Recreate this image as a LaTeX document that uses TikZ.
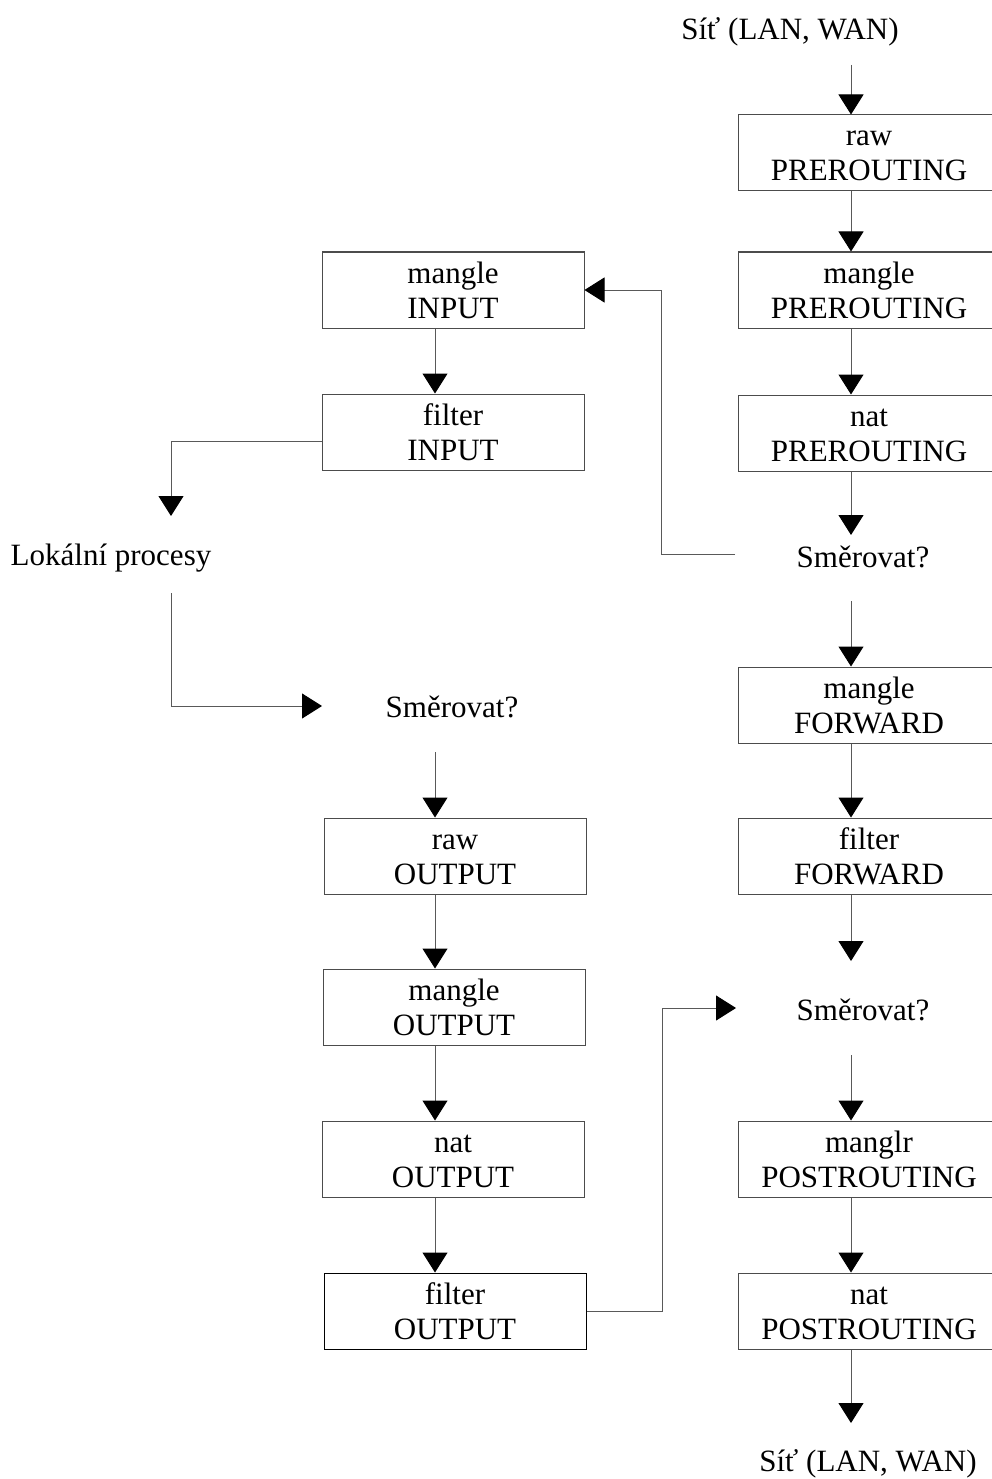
\documentclass[tikz,border=0pt]{standalone}
\usepackage{fontspec}
\setmainfont{Liberation Serif}
\usetikzlibrary{arrows.meta}
\begin{document}
\begin{tikzpicture}[x=1pt,y=-1pt,
  txt/.style={font=\fontsize{31}{35}\selectfont, inner sep=0pt, anchor=base},
  boxR/.style={draw=black!70, line width=1pt, minimum width=262pt, minimum height=76pt,
     inner sep=0pt, align=center, text height=60pt, text depth=4pt,
     font=\fontsize{31}{35}\selectfont},
  arr/.style={draw=black!65, line width=1pt, -{Triangle[width=25pt,length=20pt,color=black]}}
]
\useasboundingbox (0,0) rectangle (991,1479);
\fill[white] (0,0) rectangle (991,1479);

% column coordinates
\coordinate (colR) at (851,0);
\coordinate (colL) at (435,0);

% right column
\node[txt] (net1) at (790,40) {Síť (LAN, WAN)};
\node[boxR] (rawpre) at (869,153) {raw\\PREROUTING};
\node[boxR] (manpre) at (869,290) {mangle\\PREROUTING};
\node[boxR] (natpre) at (869,433) {nat\\PREROUTING};
\node[txt] (smer1) at (863,567) {Směrovat?};
\node[boxR] (manfwd) at (869,705) {mangle\\FORWARD};
\node[boxR] (filfwd) at (869,856) {filter\\FORWARD};
\node[txt] (smer2) at (863,1020) {Směrovat?};
\node[boxR] (manpost) at (869,1159) {manglr\\POSTROUTING};
\node[boxR] (natpost) at (869,1311) {nat\\POSTROUTING};
\node[txt] (net2) at (868,1471) {Síť (LAN, WAN)};

% left column
\node[boxR] (maninp) at (453,290) {mangle\\INPUT};
\node[boxR] (filinp) at (453,432) {filter\\INPUT};
\node[txt] (lok) at (111,565) {Lokální procesy};
\node[txt] (smer3) at (452,717) {Směrovat?};
\node[boxR] (rawout) at (455,856) {raw\\OUTPUT};
\node[boxR] (manout) at (454,1007) {mangle\\OUTPUT};
\node[boxR] (natout) at (453,1159) {nat\\OUTPUT};
\node[boxR, draw=black] (filout) at (455,1311) {filter\\OUTPUT};

% free ends
\coordinate (n1out) at (851,65);
\coordinate (s1in) at (851,535);
\coordinate (s1out) at (851,601);
\coordinate (s1left) at (735,554);
\coordinate (s2in) at (851,961);
\coordinate (s2out) at (851,1055);
\coordinate (s2left) at (736,1008);
\coordinate (n2in) at (851,1423);
\coordinate (lokin) at (171,516);
\coordinate (lokout) at (171,593);
\coordinate (s3in) at (322,706);
\coordinate (s3out) at (435,752);
\coordinate (b5) at (661,0);
\coordinate (b19) at (662,0);

% right connectors
\draw[arr] (n1out) -- (colR |- rawpre.north);
\draw[arr] (colR |- rawpre.south) -- (colR |- manpre.north);
\draw[arr] (colR |- manpre.south) -- (colR |- natpre.north);
\draw[arr] (colR |- natpre.south) -- (s1in);
\draw[arr] (s1out) -- (colR |- manfwd.north);
\draw[arr] (colR |- manfwd.south) -- (colR |- filfwd.north);
\draw[arr] (colR |- filfwd.south) -- (s2in);
\draw[arr] (s2out) -- (colR |- manpost.north);
\draw[arr] (colR |- manpost.south) -- (colR |- natpost.north);
\draw[arr] (colR |- natpost.south) -- (n2in);

% Směrovat? -> mangle INPUT
\draw[arr] (s1left) -- (s1left -| b5) -- (b5 |- maninp.east) -- (maninp.east);

% left connectors
\draw[arr] (colL |- maninp.south) -- (colL |- filinp.north);
\draw[arr] ([yshift=-9pt]filinp.west) -| (lokin);
\draw[arr] (lokout) |- (s3in);
\draw[arr] (s3out) -- (colL |- rawout.north);
\draw[arr] (colL |- rawout.south) -- (colL |- manout.north);
\draw[arr] (colL |- manout.south) -- (colL |- natout.north);
\draw[arr] (colL |- natout.south) -- (colL |- filout.north);

% filter OUTPUT -> Směrovat?
\draw[arr] (filout.east) -- (filout.east -| b19) -- (b19 |- s2left) -- (s2left);
\end{tikzpicture}
\end{document}
